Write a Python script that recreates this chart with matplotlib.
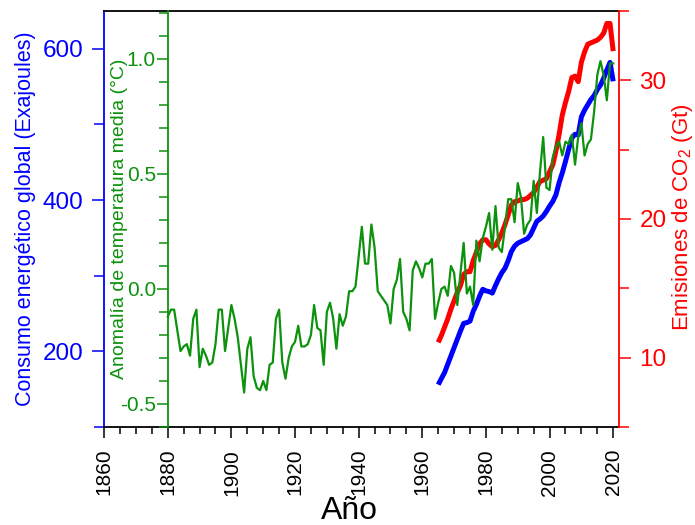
import numpy as np
import matplotlib
matplotlib.use('Agg')
import matplotlib.pyplot as plt
from matplotlib.ticker import MultipleLocator

plt.rcParams['font.family'] = ['Liberation Sans', 'DejaVu Sans']
plt.rcParams['mathtext.fontset'] = 'custom'
plt.rcParams['mathtext.rm'] = 'Liberation Sans'
plt.rcParams['mathtext.default'] = 'regular'

# anomalía de temperatura (°C), 1880-2020
temp_years = np.arange(1880, 2021)
temp_vals = [
    -0.12, -0.09, -0.09, -0.18, -0.27, -0.25, -0.24, -0.29, -0.13, -0.09,
    -0.34, -0.26, -0.29, -0.33, -0.32, -0.24, -0.09, -0.09, -0.27, -0.17,
    -0.07, -0.13, -0.21, -0.33, -0.45, -0.26, -0.21, -0.38, -0.43, -0.44,
    -0.40, -0.44, -0.33, -0.32, -0.13, -0.09, -0.32, -0.39, -0.30, -0.25,
    -0.23, -0.16, -0.25, -0.25, -0.24, -0.20, -0.07, -0.17, -0.18, -0.33,
    -0.10, -0.06, -0.13, -0.26, -0.11, -0.16, -0.12, -0.01, -0.01, 0.01,
    0.14, 0.27, 0.11, 0.11, 0.28, 0.18, -0.01, -0.03, -0.05, -0.07,
    -0.15, 0.00, 0.04, 0.13, -0.10, -0.13, -0.18, 0.08, 0.12, 0.09,
    0.05, 0.11, 0.11, 0.13, -0.13, -0.06, 0.00, 0.01, -0.03, 0.10,
    0.07, -0.07, 0.07, 0.20, -0.02, 0.01, -0.07, 0.21, 0.12, 0.22,
    0.27, 0.33, 0.17, 0.36, 0.18, 0.16, 0.27, 0.39, 0.39, 0.29,
    0.46, 0.40, 0.24, 0.28, 0.30, 0.47, 0.33, 0.51, 0.66, 0.44,
    0.43, 0.57, 0.62, 0.64, 0.58, 0.64, 0.63, 0.67, 0.54, 0.66,
    0.72, 0.58, 0.63, 0.65, 0.77, 0.93, 0.99, 0.93, 0.82, 0.98,
    0.98,
]

# consumo energético (EJ) y emisiones de CO2 (Gt), 1965-2020
energy_years = np.arange(1965, 2021)
energy_vals = [
    156, 164, 172, 183, 194, 205, 216, 227, 237, 238,
    240, 253, 262, 273, 282, 280, 279, 277, 287, 296,
    304, 310, 320, 332, 339, 343, 345, 347, 349, 354,
    363, 372, 375, 379, 385, 392, 398, 407, 423, 436,
    451, 467, 482, 487, 486, 510, 519, 526, 533, 538,
    546, 552, 561, 572, 582, 557,
]
co2_vals = [
    11.1, 11.6, 12.2, 12.8, 13.5, 14.1, 14.7, 15.2, 16.0, 16.2,
    16.2, 17.0, 17.6, 18.2, 18.5, 18.5, 18.2, 18.0, 18.1, 18.5,
    19.0, 19.6, 20.3, 21.0, 21.25, 21.3, 21.4, 21.4, 21.5, 21.7,
    21.9, 22.3, 22.7, 22.8, 22.9, 23.4, 23.9, 24.9, 26.1, 27.5,
    28.4, 29.2, 30.2, 30.3, 29.9, 31.3, 32.05, 32.6, 32.7, 32.8,
    32.9, 33.1, 33.4, 34.1, 34.1, 32.1,
]

green = '#0c920c'

fig = plt.figure(figsize=(6.95, 5.25), dpi=100)
ax = fig.add_axes([0.1496, 0.1867, 0.7414, 0.7924])
ax_c = ax.twinx()   # CO2, derecha
ax_t = ax.twinx()   # temperatura, eje en 1880

ax.plot(energy_years, energy_vals, color='blue', lw=3.6, solid_capstyle='butt')
ax_c.plot(energy_years, co2_vals, color='red', lw=3.6, solid_capstyle='butt')
ax_t.plot(temp_years, temp_vals, color=green, lw=1.6)

ax.set_xlim(1859.95, 2021.9)
ax.set_ylim(100, 650)
ax_c.set_ylim(5, 35)
ax_t.set_ylim(-0.6, 1.208)

# eje x
ax.xaxis.set_major_locator(MultipleLocator(20))
ax.xaxis.set_minor_locator(MultipleLocator(5))
ax.tick_params(axis='x', which='major', length=7.7, width=1.1, labelsize=15,
               labelrotation=90, pad=8)
ax.tick_params(axis='x', which='minor', length=5.3, width=1.1)
ax.set_xlabel('Año', fontsize=23)
ax.xaxis.set_label_coords(0.477, -0.166)

# eje azul
ax.yaxis.set_major_locator(MultipleLocator(200))
ax.yaxis.set_minor_locator(MultipleLocator(100))
ax.tick_params(axis='y', which='major', colors='blue', length=8.6, width=1.1,
               labelsize=17.5, pad=6)
ax.tick_params(axis='y', which='minor', colors='blue', length=7, width=1.1)
ax.set_ylabel('Consumo energético global (Exajoules)', color='blue', fontsize=15.5)
ax.yaxis.set_label_coords(-0.132, 0.5)
for s in ax.spines.values():
    s.set_linewidth(1.3)
ax.spines['left'].set_color('blue')
ax.spines['right'].set_visible(False)

# eje rojo
ax_c.yaxis.set_major_locator(MultipleLocator(10))
ax_c.yaxis.set_minor_locator(MultipleLocator(5))
ax_c.tick_params(axis='y', which='major', colors='red', length=8.6, width=1.1,
                 labelsize=17.5, pad=6)
ax_c.tick_params(axis='y', which='minor', colors='red', length=7, width=1.1)
ax_c.set_ylabel('Emisiones de CO$_2$ (Gt)', color='red', fontsize=16)
ax_c.yaxis.set_label_coords(1.098, 0.504)
for k in ['left', 'top', 'bottom']:
    ax_c.spines[k].set_visible(False)
ax_c.spines['right'].set_color('red')
ax_c.spines['right'].set_linewidth(1.3)

# eje verde
ax_t.yaxis.tick_left()
ax_t.yaxis.set_label_position('left')
ax_t.spines['left'].set_position(('data', 1880))
for k in ['right', 'top', 'bottom']:
    ax_t.spines[k].set_visible(False)
ax_t.spines['left'].set_color(green)
ax_t.spines['left'].set_linewidth(1.3)
ax_t.yaxis.set_major_locator(MultipleLocator(0.5))
ax_t.yaxis.set_minor_locator(MultipleLocator(0.1))
ax_t.tick_params(axis='y', which='major', colors=green, length=8, width=1.1,
                 labelsize=15, pad=0.5)
ax_t.tick_params(axis='y', which='minor', colors=green, length=6.7, width=1.1)
ax_t.yaxis.set_major_formatter(plt.FuncFormatter(lambda v, p: '%.1f' % v))
ax_t.set_ylabel('Anomalía de temperatura media (°C)', color=green, fontsize=14)
ax_t.yaxis.set_label_coords(0.0466, 0.5)

fig.savefig('out.png', dpi=100)
